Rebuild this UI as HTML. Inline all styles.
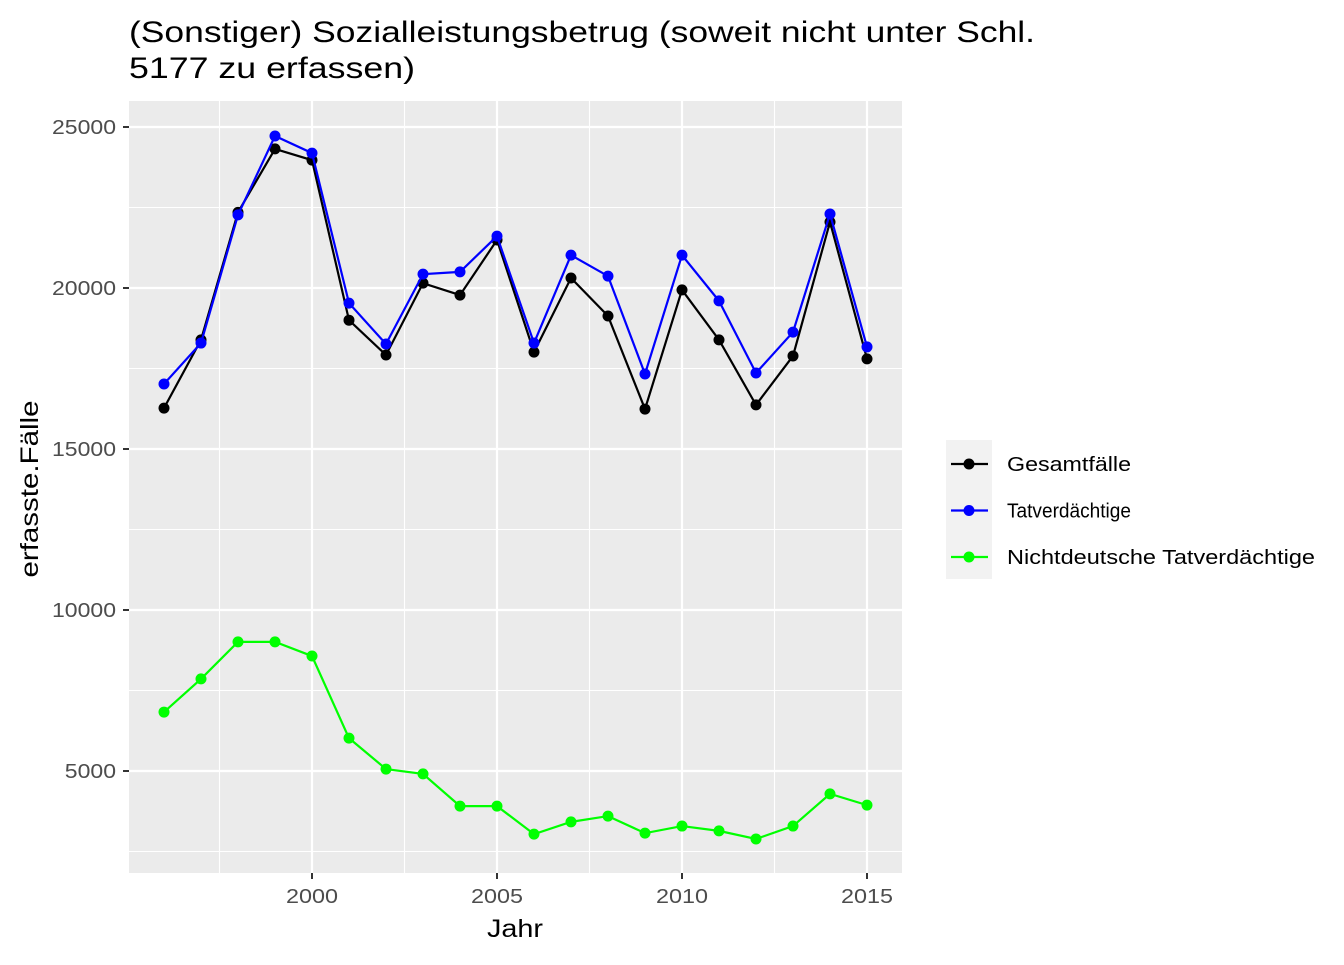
<!DOCTYPE html>
<html><head><meta charset="utf-8"><style>
body{margin:0;background:#fff;font-family:"Liberation Sans",sans-serif}
svg text{font-family:"Liberation Sans",sans-serif}
</style></head><body>
<svg id="c" width="1344" height="960" xmlns="http://www.w3.org/2000/svg">
<text x="129" y="42" font-size="30" textLength="906" lengthAdjust="spacingAndGlyphs" fill="#000">(Sonstiger) Sozialleistungsbetrug (soweit nicht unter Schl.</text>
<text x="129" y="78" font-size="30" textLength="286" lengthAdjust="spacingAndGlyphs" fill="#000">5177 zu erfassen)</text>
<rect x="129" y="101" width="773" height="772" fill="#ebebeb"/>
<g id="grid"></g><g id="axes"></g><g id="series"></g>
<text x="515" y="937" font-size="25" textLength="56" lengthAdjust="spacingAndGlyphs" text-anchor="middle">Jahr</text>
<text transform="translate(38,489) rotate(-90)" font-size="25" textLength="177" lengthAdjust="spacingAndGlyphs" text-anchor="middle">erfasste.Fälle</text>
<g id="legend"></g>
</svg>
<script>
const years=[1996,1997,1998,1999,2000,2001,2002,2003,2004,2005,2006,2007,2008,2009,2010,2011,2012,2013,2014,2015];
const gesamt=[16270,18390,22350,24320,23970,19000,17920,20150,19780,21490,18010,20310,19130,16240,19940,18390,16370,17890,22050,17800];
const tatv=[17020,18290,22270,24720,24190,19530,18260,20430,20500,21610,18290,21020,20370,17330,21020,19600,17360,18630,22300,18170];
const nicht=[6830,7860,9010,9010,8570,6020,5060,4910,3910,3910,3040,3420,3600,3070,3290,3140,2890,3290,4290,3940];
const xTicks=[2000,2005,2010,2015];
const yTicks=[5000,10000,15000,20000,25000];
const seriesNames=["Gesamtfälle","Tatverdächtige","Nichtdeutsche Tatverdächtige"];
const seriesColors=["#000000","#0000ff","#00ff00"];

const NS="http://www.w3.org/2000/svg";
const x=v=>312+(v-2000)*37;
const y=v=>288-(v-20000)*0.0322;
function mk(p,t,a){const e=document.createElementNS(NS,t);for(const k in a)e.setAttribute(k,a[k]);p.appendChild(e);return e;}
const grid=document.getElementById('grid'),axes=document.getElementById('axes');
const minorY=[2500,7500,12500,17500,22500],minorX=[1997.5,2002.5,2007.5,2012.5];
minorY.forEach(v=>{const l=mk(grid,'line',{x1:129,x2:902,y1:y(v),y2:y(v),stroke:'#fff','stroke-width':1.1});

});
minorX.forEach(v=>{const l=mk(grid,'line',{x1:x(v),x2:x(v),y1:101,y2:873,stroke:'#fff','stroke-width':1.1});

});
yTicks.forEach(v=>{const l=mk(grid,'line',{x1:129,x2:902,y1:y(v),y2:y(v),stroke:'#fff','stroke-width':2.2});


const t=mk(axes,'line',{x1:123,x2:129,y1:y(v),y2:y(v),stroke:'#333','stroke-width':2});


const s=String(v);
const tx=mk(axes,'text',{x:116,y:y(v)+7,'font-size':20,'text-anchor':'end',fill:'#4d4d4d',textLength:s.length*12.8,lengthAdjust:'spacingAndGlyphs'});tx.textContent=s;

});
xTicks.forEach(v=>{const l=mk(grid,'line',{x1:x(v),x2:x(v),y1:101,y2:873,stroke:'#fff','stroke-width':2.2});


const t=mk(axes,'line',{x1:x(v),x2:x(v),y1:873,y2:879,stroke:'#333','stroke-width':2});


const tx=mk(axes,'text',{x:x(v),y:903,'font-size':20,'text-anchor':'middle',fill:'#4d4d4d',textLength:52,lengthAdjust:'spacingAndGlyphs'});tx.textContent=v;

});
const ser=document.getElementById('series');
[gesamt,tatv,nicht].forEach((d,i)=>{
const g=mk(ser,'g',{});


const pl=mk(g,'polyline',{points:years.map((yr,j)=>x(yr)+','+y(d[j])).join(' '),fill:'none',stroke:seriesColors[i],'stroke-width':2.2});


years.forEach((yr,j)=>{const c=mk(g,'circle',{cx:x(yr),cy:y(d[j]),r:5.5,fill:seriesColors[i]});

});});
const lg=document.getElementById('legend');
mk(lg,'rect',{x:946,y:440,width:46,height:139,fill:'#f2f2f2'});
const legendWidths=[124,124,308];
seriesNames.forEach((n,i)=>{const cy=464+i*46.5;
const e=mk(lg,'g',{});


mk(e,'line',{x1:951,x2:988,y1:cy,y2:cy,stroke:seriesColors[i],'stroke-width':2.2});
mk(e,'circle',{cx:969,cy:cy,r:5.5,fill:seriesColors[i]});
const t=mk(e,'text',{x:1007,y:cy+7,'font-size':20,fill:'#000',textLength:legendWidths[i],lengthAdjust:'spacingAndGlyphs'});t.textContent=n;});
</script>
</body></html>
